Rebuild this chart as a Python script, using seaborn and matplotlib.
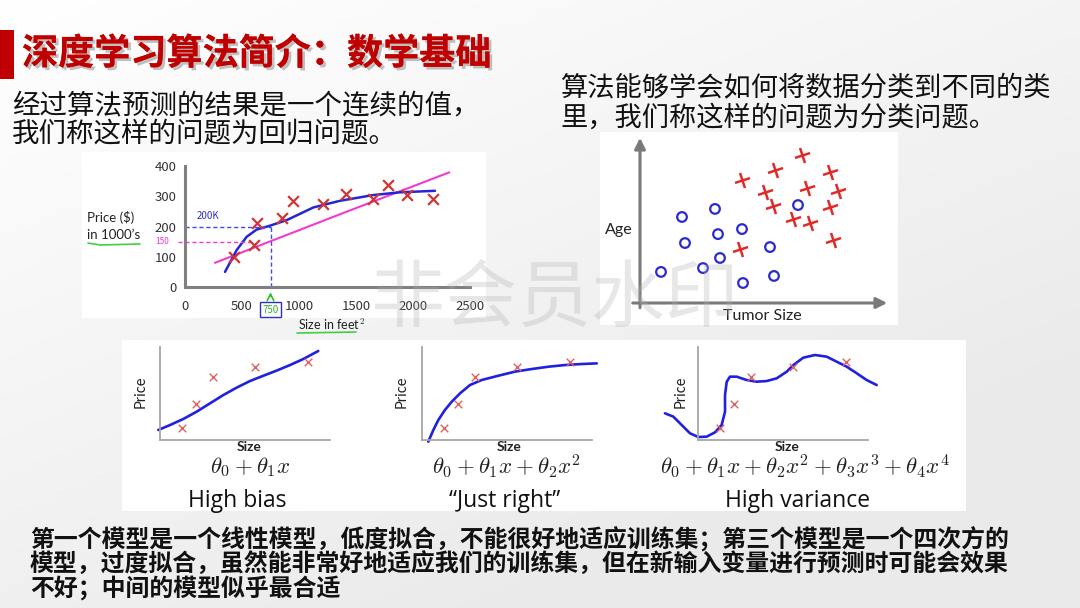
import numpy as np
import pandas as pd
import matplotlib
matplotlib.use("Agg")
import matplotlib.pyplot as plt
import matplotlib.patheffects as pe
from matplotlib.patches import Rectangle
from matplotlib.lines import Line2D
from matplotlib.markers import MarkerStyle
from matplotlib.transforms import Affine2D
import seaborn as sns

# ---------------- data ----------------
title = "深度学习算法简介：数学基础"
reg_text = ["经过算法预测的结果是一个连续的值，", "我们称这样的问题为回归问题。"]
cls_text = ["算法能够学会如何将数据分类到不同的类", "里，我们称这样的问题为分类问题。"]
bottom_text = ["第一个模型是一个线性模型，低度拟合，不能很好地适应训练集；第三个模型是一个四次方的",
               "模型，过度拟合，虽然能非常好地适应我们的训练集，但在新输入变量进行预测时可能会效果",
               "不好；中间的模型似乎最合适"]
watermark = "非会员水印"

# regression (housing prices)
house_size = [430, 608, 629, 848, 950, 1208, 1409, 1652, 1784, 1944, 2178]
house_price = [99, 140, 212, 227, 285, 274, 306, 290, 336, 304, 290]
quad_fit_x = [351, 453, 541, 629, 731, 892, 1126, 1360, 1652, 1886, 2193]
quad_fit_y = [50, 122, 166, 190, 201, 221, 263, 285, 304, 313, 318]
lin_fit_x = [263, 1418, 2319]
lin_fit_y = [80, 249, 379]
reg_xticks = [0, 500, 1000, 1500, 2000, 2500]
reg_yticks = [0, 100, 200, 300, 400]
query_size = 750
pred_quad = 200
pred_lin = 150

# classification (tumor size vs age)
benign_size = [1.68, 3.0, 1.8, 3.12, 4.08, 3.2, 5.2, 2.52, 0.84, 4.12, 5.36, 6.32]
benign_age = [5.12, 5.6, 3.57, 4.1, 4.4, 2.68, 3.33, 2.08, 1.85, 1.19, 1.61, 5.83]
malig_size = [4.08, 5.4, 6.48, 7.6, 5.0, 6.68, 7.92, 5.32, 7.6, 6.12, 6.8, 7.72, 4.0]
malig_age = [7.32, 7.92, 8.81, 7.8, 6.61, 6.85, 6.67, 5.77, 5.71, 5.0, 4.76, 3.75, 3.21]

# bias / variance panels
train_x = [1.3, 2.12, 3.14, 5.6, 8.7]
train_y = [1.26, 3.9, 6.75, 7.85, 8.4]
bias_x = [-0.1, 0.59, 1.37, 2.16, 2.94, 3.73, 4.51, 5.29, 6.08, 6.86, 7.65, 8.43, 9.31]
bias_y = [1.08, 1.61, 2.26, 3.05, 3.94, 4.84, 5.63, 6.34, 6.91, 7.46, 8.06, 8.71, 9.57]
right_x = [0.37, 0.67, 0.96, 1.35, 1.75, 2.24, 2.82, 3.51, 4.49, 5.47, 6.45, 7.43, 8.41, 9.39, 10.28]
right_y = [-0.18, 1.08, 2.15, 3.23, 4.12, 5.02, 5.91, 6.45, 6.91, 7.35, 7.63, 7.88, 8.06, 8.17, 8.24]
var_x = [-1.94, -1.45, -0.96, -0.47, 0.02, 0.51, 1.0, 1.39, 1.59, 1.59, 1.69, 1.88, 2.27, 2.86,
         3.45, 4.04, 4.63, 5.22, 5.61, 6.19, 6.88, 7.57, 8.16, 8.75, 9.34, 9.92, 10.51]
var_y = [2.87, 2.51, 1.61, 0.72, 0.32, 0.36, 0.82, 1.61, 3.05, 4.84, 6.27, 6.81, 6.81, 6.45,
         6.27, 6.34, 6.63, 7.35, 8.06, 8.85, 9.14, 8.96, 8.42, 7.88, 7.17, 6.45, 5.91]
panel_formulas = [r"$\theta_0+\theta_1x$",
                  r"$\theta_0+\theta_1x+\theta_2x^2$",
                  r"$\theta_0+\theta_1x+\theta_2x^2+\theta_3x^3+\theta_4x^4$"]
panel_titles = ["High bias", "\u201cJust right\u201d", "High variance"]

# ---------------- style ----------------
sns.set_theme(style="white")
plt.rcParams['font.family'] = ['Noto Sans CJK SC', 'DejaVu Sans']
plt.rcParams['mathtext.fontset'] = 'cm'

W, H = 1080, 608
fig = plt.figure(figsize=(W / 100, H / 100), dpi=100)

def fx(px):
    return px / W

def fy(py):
    return 1 - py / H

def add_ax(x0, y0, x1, y1, **kw):
    return fig.add_axes([fx(x0), fy(y1), fx(x1 - x0), (y1 - y0) / H], **kw)

# background gradient
bg = fig.add_axes([0, 0, 1, 1], zorder=-10)
gx = np.linspace(0, 1, 200)
gy = np.linspace(0, 1, 120)
GX, GY = np.meshgrid(gx, gy)
grad = 1.0 - 0.08 * np.clip(0.55 * GX + 0.75 * GY, 0, 1)
bg.imshow(np.dstack([grad, grad, grad]), aspect='auto', extent=[0, 1, 0, 1])
bg.set_axis_off()

# white picture boxes
for (x0, y0, x1, y1) in [(82, 152, 486, 318), (600, 132, 898, 325), (122, 340, 966, 511)]:
    fig.patches.append(Rectangle((fx(x0), fy(y1)), fx(x1 - x0), (y1 - y0) / H,
                                 transform=fig.transFigure, facecolor='white',
                                 edgecolor='none', zorder=-5))

# red bar + title
fig.patches.append(Rectangle((0, fy(79)), fx(14), 49 / H, transform=fig.transFigure,
                             facecolor='#c00000', edgecolor='none', zorder=1))
fig.text(fx(22), fy(54), title, fontsize=26, fontweight='bold', color='#c00000',
         va='center', ha='left',
         path_effects=[pe.withSimplePatchShadow(offset=(2, -2), shadow_rgbFace='#777777', alpha=0.45),
                       pe.Normal()])

for i, line in enumerate(reg_text):
    fig.text(fx(12), fy(106 + 28 * i), line, fontsize=19.8, color='#111111', va='center', ha='left')
for i, line in enumerate(cls_text):
    fig.text(fx(560), fy(89 + 29 * i), line, fontsize=19.6, color='#111111', va='center', ha='left')

# ---------------- regression chart ----------------
ax1 = add_ax(185, 166, 470, 287)
ax1.set_facecolor('none')
sns.lineplot(x=lin_fit_x, y=lin_fit_y, ax=ax1, color='#f03ad2', lw=1.5, sort=False, estimator=None)
sns.lineplot(x=quad_fit_x, y=quad_fit_y, ax=ax1, color='#2525d5', lw=1.8, sort=False, estimator=None)
sns.scatterplot(x=house_size, y=house_price, ax=ax1, marker='x', s=60, color='#d03535', linewidth=1.6, zorder=5)
ax1.hlines(pred_quad, 0, query_size, colors='#4848e0', linestyles=(0, (3, 2)), lw=1.0)
ax1.vlines(query_size, 0, pred_quad, colors='#4848e0', linestyles=(0, (3, 2)), lw=1.0)
ax1.hlines(pred_lin, -60, query_size * 0.77, colors='#f03ad2', linestyles=(0, (3, 2)), lw=1.0, clip_on=False)
ax1.set_xlim(0, 2500)
ax1.set_ylim(0, 400)
ax1.set_xticks(reg_xticks)
ax1.set_yticks(reg_yticks)
for s in ['top', 'right']:
    ax1.spines[s].set_visible(False)
for s in ['left', 'bottom']:
    ax1.spines[s].set_color('#808080')
    ax1.spines[s].set_linewidth(2.2)
ax1.tick_params(direction='inout', length=6, width=1.5, color='#808080', labelsize=9.5,
                labelcolor='#333333', pad=3)
ax1.tick_params(axis='x', pad=6)
ax1.set_xlabel('')
ax1.set_ylabel('')
ax1.text(0.08, 0.585, "200K", transform=ax1.transAxes, fontsize=7, color='#3030c0', ha='center', va='center')
ax1.text(-0.08, 0.375, "150", transform=ax1.transAxes, fontsize=6, color='#f03ad2', ha='center', va='center')
ax1.annotate("", xy=(query_size, -8), xytext=(query_size, -40), xycoords='data',
             arrowprops=dict(arrowstyle='->', color='#30c030', lw=1.2), annotation_clip=False)
ax1.annotate(str(query_size), xy=(query_size, -75), xycoords='data', fontsize=7, color='#30b030',
             ha='center', va='center', annotation_clip=False,
             bbox=dict(boxstyle='square,pad=0.25', fc='white', ec='#3030c0', lw=1))
fig.text(fx(87), fy(218), "Price ($)", fontsize=9.5, family='Lato', color='#222222', va='center')
fig.text(fx(87), fy(235), "in 1000\u2019s", fontsize=9.5, family='Lato', color='#222222', va='center')
fig.text(fx(298), fy(324), "Size in feet$^2$", fontsize=9, family='Lato', color='#222222', va='center')
fig.lines.append(Line2D([fx(88), fx(100), fx(140)], [fy(243), fy(245), fy(244)], transform=fig.transFigure,
                        color='#40d040', lw=1.2))
fig.lines.append(Line2D([fx(297), fx(356)], [fy(333), fy(332)], transform=fig.transFigure,
                        color='#40d040', lw=1.2))

# ---------------- classification chart ----------------
ax2 = add_ax(640, 135, 890, 303)
ax2.set_facecolor('none')
sns.scatterplot(x=benign_size, y=benign_age, ax=ax2, marker='o', s=48, facecolor='none',
                edgecolor='#2a2ad0', linewidth=1.6, zorder=5)
cross = MarkerStyle('+', transform=Affine2D().rotate_deg(18))
sns.scatterplot(x=malig_size, y=malig_age, ax=ax2, marker=cross, s=130, color='#e02a2a',
                linewidth=1.8, zorder=5)
ax2.set_xlim(0, 10)
ax2.set_ylim(0, 10)
ax2.set_axis_off()
ax2.annotate("", xy=(0, 1.0), xytext=(0, -0.045), xycoords='axes fraction',
             arrowprops=dict(arrowstyle='-|>', color='#7a7a7a', lw=2.2, mutation_scale=16))
ax2.annotate("", xy=(1.0, 0), xytext=(-0.04, 0), xycoords='axes fraction',
             arrowprops=dict(arrowstyle='-|>', color='#7a7a7a', lw=2.2, mutation_scale=16))
fig.text(fx(619), fy(230), "Age", fontsize=11.5, family='Lato', color='#222222', ha='center', va='center')
fig.text(fx(762), fy(316), "Tumor Size", fontsize=11.5, family='Lato', color='#222222', ha='center', va='center')

# ---------------- bias / variance panels ----------------
panels = [(160, bias_x, bias_y, 141, 249, 250, 237),
          (422, right_x, right_y, 402, 509, 507, 505),
          (698, var_x, var_y, 681, 787, 805, 798)]
for k, (ox, cx, cy, price_x, size_x, form_x, title_x) in enumerate(panels):
    ax = add_ax(ox, 347, ox + 170, 440)
    ax.set_facecolor('none')
    sns.lineplot(x=cx, y=cy, ax=ax, color='#2020e0', lw=1.9, sort=False, estimator=None)
    for ln in ax.lines:
        ln.set_clip_on(False)
        ln.set_solid_joinstyle('round')
    sns.scatterplot(x=train_x, y=train_y, ax=ax, marker='x', s=30, color='#e06060', linewidth=1.0, zorder=5)
    ax.set_xlim(0, 10)
    ax.set_ylim(0, 10)
    ax.set_xticks([])
    ax.set_yticks([])
    for s in ['top', 'right']:
        ax.spines[s].set_visible(False)
    for s in ['left', 'bottom']:
        ax.spines[s].set_color('#a6a6a6')
        ax.spines[s].set_linewidth(1.3)
    fig.text(fx(price_x), fy(392), "Price", fontsize=10.5, family='Lato', rotation=90,
             color='#222222', ha='center', va='center')
    fig.text(fx(size_x), fy(447), "Size", fontsize=10, family='Lato', fontweight='bold',
             color='#222222', ha='center', va='center')
    fig.text(fx(form_x), fy(467), panel_formulas[k], fontsize=16.5, color='#222222', ha='center', va='center')
    fig.text(fx(title_x), fy(501), panel_titles[k], fontsize=16.5, family='Open Sans',
             color='#111111', ha='center', va='center')

# ---------------- bottom text ----------------
for i, line in enumerate(bottom_text):
    fig.text(fx(30), fy(539 + 24.5 * i), line, fontsize=17.2, fontweight='bold', color='#111111',
             ha='left', va='center')

# watermark
fig.text(fx(555), fy(300), watermark, fontsize=53, color='#b0b0b0', alpha=0.3,
         ha='center', va='center', zorder=20)

fig.savefig("out.png", dpi=100)
